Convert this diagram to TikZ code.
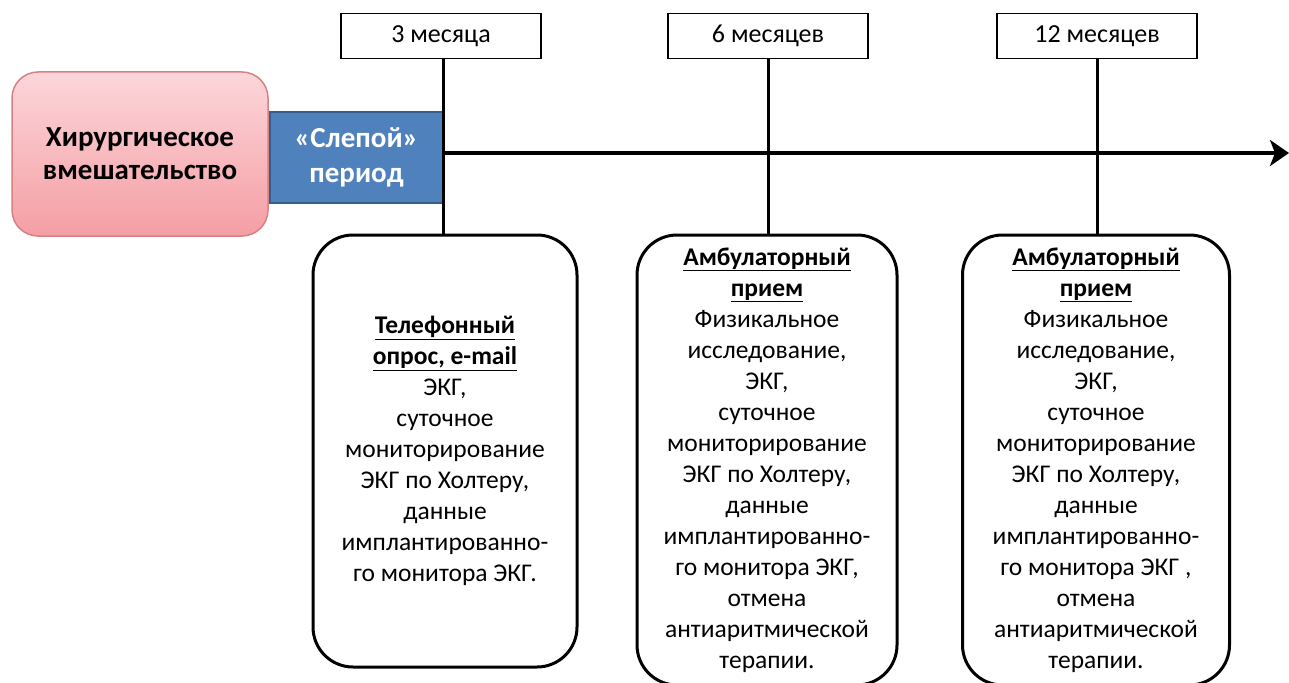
\documentclass[tikz,border=0pt]{standalone}
\usepackage{fontspec}
\setmainfont{Carlito}
\usetikzlibrary{arrows.meta}
\definecolor{redtop}{RGB}{252,214,218}
\definecolor{redbot}{RGB}{244,158,164}
\definecolor{redline}{RGB}{214,130,132}
\definecolor{bluefill}{RGB}{79,129,189}
\definecolor{blueline}{RGB}{56,93,138}
\tikzset{
  surgery/.style={rounded corners=26pt, draw=redline, line width=1.5pt,
    top color=redtop, bottom color=redbot, minimum width=256pt, minimum height=164pt,
    align=center, font=\fontsize{29}{33}\selectfont\bfseries},
  blind/.style={draw=blueline, line width=1.5pt, fill=bluefill, text=white,
    minimum width=173pt, minimum height=91pt, align=center,
    font=\fontsize{29}{35}\selectfont\bfseries},
  monthbox/.style={draw, line width=1.5pt, fill=white, minimum width=200pt, minimum height=45pt,
    font=\fontsize{26}{30}\selectfont},
  visitbox/.style={draw, line width=3pt, rounded corners=40pt, fill=white, align=center,
    font=\fontsize{25.5}{31}\selectfont},
  tick/.style={line width=3pt},
  timeline/.style={line width=4pt, -{Stealth[length=19pt,width=26pt,inset=5pt]}}
}
\newcommand{\hd}[1]{\underline{\textbf{#1}}}
\begin{document}
\begin{tikzpicture}[x=1pt,y=-1pt]
\useasboundingbox (0,0) rectangle (1289,682);
\clip (0,0) rectangle (1289,682);
\node[surgery] (surg) at (140,154) {Хирургическое\\вмешательство};
\node[blind] (blind) at (356.5,157.5) {«Слепой»\\период};
\coordinate (tend) at (1289,153);
\draw[timeline] (443,153) coordinate (tstart) -- (tend);

\node[monthbox] (m3) at (441,36) {3 месяца};
\node[monthbox] (m6) at (768,36) {6 месяцев};
\node[monthbox] (m12) at (1097,36) {12 месяцев};

\node[visitbox, minimum width=264pt, minimum height=432pt] (v3) at (445,451)
{\hd{Телефонный}\\\hd{опрос, e-mail}\\ЭКГ,\\суточное\\мониторирование\\ЭКГ по Холтеру,\\данные\\имплантированно-\\го монитора ЭКГ.};
\node[visitbox, minimum width=260pt, minimum height=450pt] (v6) at (767,460)
{\hd{Амбулаторный}\\\hd{прием}\\Физикальное\\исследование,\\ЭКГ,\\суточное\\мониторирование\\ЭКГ по Холтеру,\\данные\\имплантированно-\\го монитора ЭКГ,\\отмена\\антиаритмической\\терапии.};
\node[visitbox, minimum width=267pt, minimum height=450pt] (v12) at (1096,460)
{\hd{Амбулаторный}\\\hd{прием}\\Физикальное\\исследование,\\ЭКГ,\\суточное\\мониторирование\\ЭКГ по Холтеру,\\данные\\имплантированно-\\го монитора ЭКГ ,\\отмена\\антиаритмической\\терапии.};

\draw[tick] (m3.south -| 443,0) -- (v3.north -| 443,0);
\draw[tick] (m6.south) -- (v6.north -| m6.south);
\draw[tick] (m12.south) -- (v12.north -| m12.south);
\end{tikzpicture}
\end{document}
